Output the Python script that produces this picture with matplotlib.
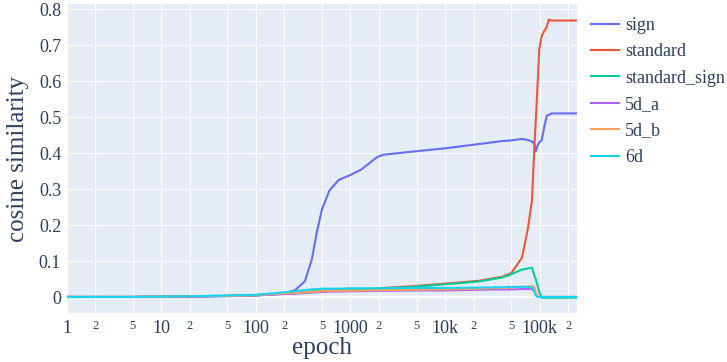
import numpy as np
import matplotlib
matplotlib.use("Agg")
import matplotlib.pyplot as plt

plt.rcParams['font.family'] = ['Liberation Serif', 'DejaVu Serif']

# data
epochs = [1, 2, 5, 10, 20, 50, 100, 200, 260, 330, 390, 440, 500, 600, 750,
          1000, 1300, 1900, 2200, 4600, 10000, 23000, 40000, 50000, 65000,
          75000, 83000, 88000, 91000, 95000, 99000, 105000, 112000, 119000,
          125000, 134000, 250000]

sign = [0.001, 0.001, 0.001, 0.002, 0.002, 0.003, 0.005, 0.011, 0.020, 0.045,
        0.105, 0.180, 0.245, 0.297, 0.326, 0.340, 0.355, 0.389, 0.396, 0.405,
        0.414, 0.426, 0.434, 0.436, 0.440, 0.437, 0.433, 0.425, 0.405, 0.422,
        0.430, 0.437, 0.474, 0.505, 0.507, 0.511, 0.511]

standard = [0.001, 0.001, 0.001, 0.002, 0.003, 0.004, 0.006, 0.010, 0.012,
            0.015, 0.016, 0.017, 0.018, 0.019, 0.020, 0.021, 0.022, 0.024,
            0.026, 0.031, 0.038, 0.046, 0.057, 0.067, 0.110, 0.190, 0.270,
            0.420, 0.490, 0.590, 0.688, 0.726, 0.740, 0.752, 0.772, 0.769,
            0.769]

standard_sign = [0.001, 0.001, 0.001, 0.002, 0.003, 0.004, 0.006, 0.010,
                 0.012, 0.015, 0.016, 0.017, 0.018, 0.019, 0.020, 0.021,
                 0.022, 0.024, 0.025, 0.029, 0.036, 0.044, 0.055, 0.064,
                 0.077, 0.080, 0.082, 0.060, 0.050, 0.033, 0.015, -0.001,
                 -0.001, -0.001, -0.001, -0.001, -0.001]

d5_a = [0.001, 0.001, 0.001, 0.002, 0.002, 0.004, 0.005, 0.009, 0.010, 0.012,
        0.013, 0.014, 0.015, 0.016, 0.016, 0.017, 0.017, 0.018, 0.018, 0.019,
        0.019, 0.021, 0.022, 0.022, 0.023, 0.023, 0.023, 0.018, 0.012, 0.001,
        0.001, 0.001, 0.001, 0.001, 0.001, 0.001, 0.001]

d5_b = [0.001, 0.001, 0.001, 0.002, 0.003, 0.004, 0.006, 0.011, 0.012, 0.014,
        0.015, 0.016, 0.017, 0.018, 0.018, 0.019, 0.019, 0.020, 0.020, 0.021,
        0.022, 0.024, 0.026, 0.027, 0.029, 0.030, 0.031, 0.028, 0.015, 0.002,
        0.001, 0.001, 0.001, 0.001, 0.001, 0.001, 0.001]

d6 = [0.001, 0.001, 0.001, 0.002, 0.003, 0.005, 0.007, 0.014, 0.017, 0.020,
      0.022, 0.023, 0.024, 0.024, 0.024, 0.025, 0.025, 0.025, 0.025, 0.026,
      0.026, 0.027, 0.028, 0.029, 0.029, 0.029, 0.027, 0.015, 0.005, 0.001,
      0.001, 0.001, 0.001, 0.001, 0.001, 0.001, 0.001]

names = ["sign", "standard", "standard_sign", "5d_a", "5d_b", "6d"]
series = [sign, standard, standard_sign, d5_a, d5_b, d6]
colors = ["#636efa", "#EF553B", "#00cc96", "#ab63fa", "#FFA15A", "#19d3f3"]

xticks = [1, 2, 5, 10, 20, 50, 100, 200, 500, 1000, 2000, 5000,
          10000, 20000, 50000, 100000, 200000]
xlabels = ["1", "2", "5", "10", "2", "5", "100", "2", "5", "1000", "2", "5",
           "10k", "2", "5", "100k", "2"]
yticks = [0, 0.1, 0.2, 0.3, 0.4, 0.5, 0.6, 0.7, 0.8]
ylabels = ["0", "0.1", "0.2", "0.3", "0.4", "0.5", "0.6", "0.7", "0.8"]

W, H = 727, 362
fig = plt.figure(figsize=(W / 100, H / 100), dpi=100)
left, right, top, bottom = 66.7, 577.3, 4, 313
ax = fig.add_axes([left / W, 1 - bottom / H, (right - left) / W, (bottom - top) / H])
ax.set_facecolor("#E5ECF6")

for name, ys, c in zip(names, series, colors):
    ax.plot(epochs, ys, color=c, lw=1.5, label=name, zorder=3)

ax.set_xscale("log")
ax.set_xlim(1, 250000)
ax.set_ylim(-0.0436, 0.815)
ax.minorticks_off()
ax.set_xticks(xticks)
ax.set_xticklabels(xlabels)
ax.set_yticks(yticks)
ax.set_yticklabels(ylabels)
ax.grid(True, color="white", lw=0.8, zorder=1)
ax.axhline(0, color="white", lw=1.6, zorder=2)
ax.set_axisbelow(True)
for s in ax.spines.values():
    s.set_visible(False)

tc = "#2a3f5f"
ax.tick_params(length=0, colors=tc, labelsize=13)
ax.tick_params(axis="x", pad=5)
ax.tick_params(axis="y", pad=4)
for lab in ax.get_xticklabels():
    if lab.get_text() in ("2", "5"):
        lab.set_fontsize(9)

ax.set_xlabel("epoch", fontsize=18, color=tc, labelpad=0)
ax.set_ylabel("cosine similarity", fontsize=18, color=tc, labelpad=7)

leg = ax.legend(loc="upper left", bbox_to_anchor=(591 / W, 1 - 17 / H),
                bbox_transform=fig.transFigure, frameon=False, fontsize=13,
                handlelength=1.55, handletextpad=0.35, labelspacing=0.52,
                borderaxespad=0, borderpad=0)
for t in leg.get_texts():
    t.set_color(tc)

fig.savefig("out.png", dpi=100)
